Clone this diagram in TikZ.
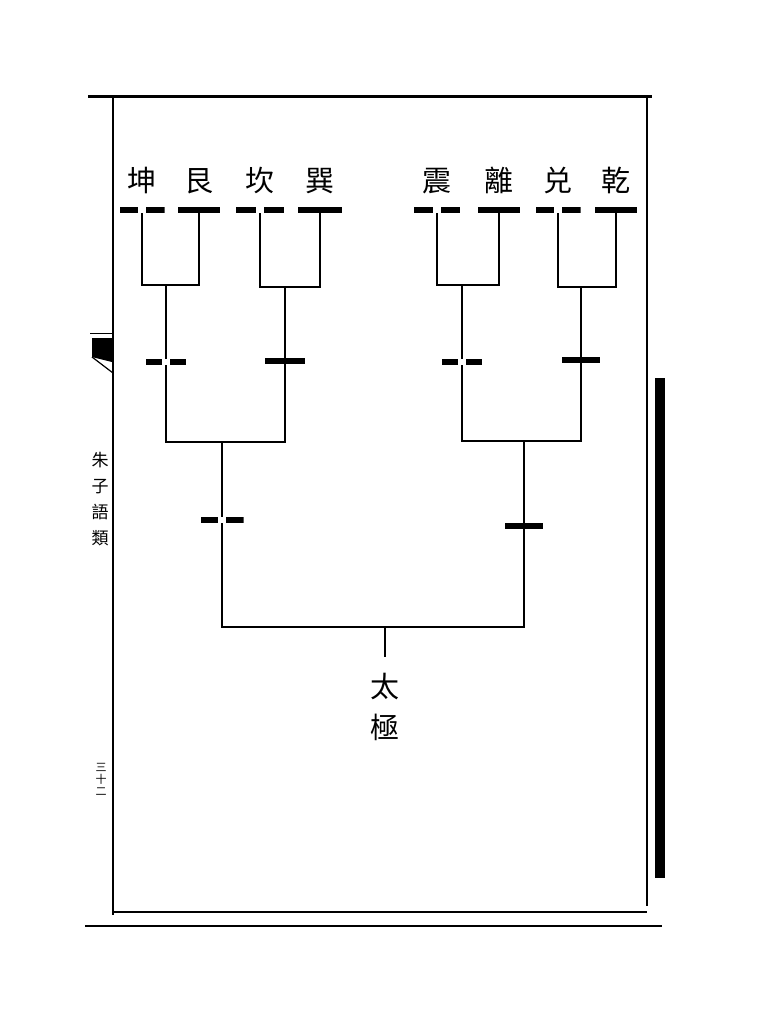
\documentclass[tikz,border=0pt]{standalone}
\usepackage{fontspec}
\newfontfamily\cjk{Noto Sans CJK SC}
\usetikzlibrary{positioning}

\tikzset{
  yang/.style={fill=black, inner sep=0pt, minimum width=42pt, minimum height=6pt},
  yin/.style={inner sep=0pt, minimum width=42pt, minimum height=6pt,
    path picture={
      \fill (path picture bounding box.south west) rectangle ([xshift=-4pt]path picture bounding box.north);
      \fill ([xshift=4pt]path picture bounding box.south) rectangle (path picture bounding box.north east);}},
  gua/.style={font=\cjk\fontsize{29}{41}\selectfont, inner sep=0pt},
  margintext/.style={font=\cjk\fontsize{17}{26}\selectfont, inner sep=0pt, align=center},
  stem/.style={line width=1.8pt},
}

\begin{document}
\begin{tikzpicture}[x=1pt, y=-1pt]
    \useasboundingbox (0,0) rectangle (756,1024);
    % page frame
    \draw[line width=3pt] (88,97) -- (652,97);
    \draw[line width=1.8pt] (113,97) -- (113,915);
    \draw[line width=1.8pt] (647,97) -- (647,906);
    \draw[line width=1.5pt] (113,912) -- (647,912);
    \draw[line width=2.5pt] (85,926) -- (662,926);
    \fill (655,378) rectangle (665,878);
    \draw[line width=1pt] (90,333) -- (112,333);
    \fill (92,338) -- (112,338) -- (112,362) -- (92,357) -- cycle;
    \draw[line width=1.2pt] (92,357) -- (113,373);
    \node[margintext] (book) at (100,499) {朱\\子\\語\\類};
    \node[margintext, font=\cjk\fontsize{11}{12}\selectfont] (page) at (101,779) {三\\十\\二};

    % third lines
    \node[yin, minimum width=45pt] (t1) at (142,210) {};
    \node[yang] (t2) at (199,210) {};
    \node[yin, minimum width=48pt] (t3) at (260,210) {};
    \node[yang, minimum width=44pt] (t4) at (320,210) {};
    \node[yin, minimum width=46pt] (t5) at (437,210) {};
    \node[yang] (t6) at (499,210) {};
    \node[yin, minimum width=45pt] (t7) at (558,210) {};
    \node[yang] (t8) at (616,210) {};
    \node[gua, above=13pt of t1] (kun) {坤};
    \node[gua, above=13pt of t2] (gen) {艮};
    \node[gua, above=13pt of t3] (kan) {坎};
    \node[gua, above=13pt of t4] (xun) {巽};
    \node[gua, above=13pt of t5] (zhen) {震};
    \node[gua, above=13pt of t6] (li) {離};
    \node[gua, above=13pt of t7] (dui) {兑};
    \node[gua, above=13pt of t8] (qian) {乾};

    % second lines
    \node[yin, minimum width=40pt] (m1) at (166,362) {};
    \node[yang, minimum width=40pt] (m2) at (285,361) {};
    \node[yin, minimum width=40pt] (m3) at (462,362) {};
    \node[yang, minimum width=38pt] (m4) at (581,360) {};

    % first lines
    \node[yin, minimum width=43pt] (b1) at (222,520) {};
    \node[yang, minimum width=38pt] (b2) at (524,526) {};

    \coordinate (j1) at (166,285);
    \coordinate (j2) at (285,287);
    \coordinate (j3) at (462,285);
    \coordinate (j4) at (581,287);
    \coordinate (k1) at (222,442);
    \coordinate (k2) at (524,441);
    \coordinate (root) at (385,627);
    \node[gua, align=center] (taiji) at (385,707) {太\\極};

    \draw[stem] (t1.south) |- (j1) -| (t2.south);
    \draw[stem] (t3.south) |- (j2) -| (t4.south);
    \draw[stem] (t5.south) |- (j3) -| (t6.south);
    \draw[stem] (t7.south) |- (j4) -| (t8.south);
    \draw[stem] (j1) -- (m1);
    \draw[stem] (j2) -- (m2);
    \draw[stem] (j3) -- (m3);
    \draw[stem] (j4) -- (m4);
    \draw[stem] (m1.south) |- (k1) -| (m2.south);
    \draw[stem] (m3.south) |- (k2) -| (m4.south);
    \draw[stem] (k1) -- (b1);
    \draw[stem] (k2) -- (b2);
    \draw[stem] (b1.south) |- (root) -| (b2.south);
    \draw[stem] (root) -- ([yshift=16pt]taiji.north);
\end{tikzpicture}
\end{document}
